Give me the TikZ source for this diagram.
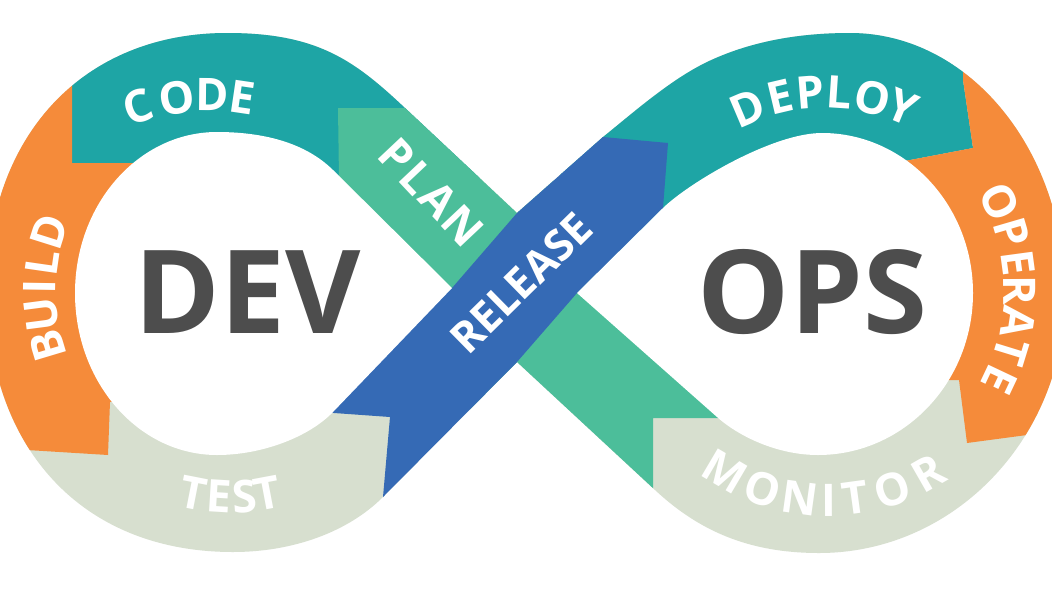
\documentclass[tikz,border=0pt]{standalone}
\usepackage{fontspec}
\setmainfont{Open Sans}
\definecolor{cteal}{RGB}{30,165,165}
\definecolor{corange}{RGB}{245,139,58}
\definecolor{cgreen}{RGB}{76,190,154}
\definecolor{cblue}{RGB}{53,106,181}
\definecolor{cgrey}{RGB}{215,223,207}
\definecolor{ctxt}{RGB}{77,77,77}
\begin{document}
\begin{tikzpicture}[x=1pt,y=-1pt,
  lbl/.style={text=white,font=\fontsize{45}{45}\selectfont\bfseries,inner sep=0pt,anchor=center},
  big/.style={text=ctxt,font=\fontsize{116}{116}\selectfont\bfseries,inner sep=0pt,anchor=center}]
\fill[white] (0,0) rectangle (1052,592);
\useasboundingbox (0,0) rectangle (1052,592);
\begin{scope}
\clip (517,213) -- (405,108) .. controls (354,60) and (317,33) .. (227,33)
  .. controls (83,33) and (-13,136) .. (-13,290)
  .. controls (-13,447) and (81,552) .. (233,552)
  .. controls (293,552) and (348,532) .. (383,497)
  -- (517,362) -- (655,490)
  .. controls (699,531) and (749,553) .. (819,553)
  .. controls (955,553) and (1065,437) .. (1065,295)
  .. controls (1065,150) and (969,33) .. (850,33)
  .. controls (800,33) and (750,41) .. (705,63)
  .. controls (669,81) and (634,112) .. (603,137)
  -- cycle;
% base (TEST / MONITOR)
\fill[cgrey] (-50,-50) rectangle (1110,650);
% CODE
\fill[cteal] (72,-20) -- (480,-20) -- (480,300) -- (200,300) -- (200,163) -- (72,163) -- cycle;
% BUILD
\fill[corange] (-50,-20) -- (72,-20) -- (72,163) -- (200,163) -- (200,400) -- (110,402) -- (108,455) -- (27,450) -- (-50,445) -- cycle;
% DEPLOY
\fill[cteal] (560,-20) -- (965,-20) -- (963,80) -- (973,148) -- (910,160) -- (880,165) -- (880,260) -- (560,260) -- cycle;
% OPERATE
\fill[corange] (963,-20) -- (1110,-20) -- (1110,424) -- (1027,435) -- (967,443) -- (959,380) -- (880,380) -- (880,165) -- (910,160) -- (973,148) -- (963,80) -- cycle;
% PLAN
\fill[cgreen] (338,108) -- (480,108) -- (760,380) -- (760,418) -- (653,418) -- (653,520) -- (560,520) -- (340,250) -- cycle;
% RELEASE
\fill[cblue] (452,288) -- (517,213) -- (603,137) -- (668,143) -- (663,208) -- (577,293) -- (517,362) -- (440,530) -- (383,530) -- (383,497) -- (390,417) -- (320,412) -- cycle;
% holes
\fill[white] (452,288) -- (333,170) .. controls (304.6,142) and (262,132) .. (217,132)
  .. controls (138.6,132) and (75,204) .. (75,293)
  .. controls (75,382.5) and (138.6,455) .. (217,455)
  .. controls (262,455) and (309,437) .. (333,412) -- cycle;
\fill[white] (577,293) -- (663,208) .. controls (688,183.5) and (772,133) .. (822,133)
  .. controls (905,133) and (973,204.6) .. (973,293)
  .. controls (973,382.5) and (903.6,455) .. (818,455)
  .. controls (778,455) and (739.5,437) .. (717,417) -- cycle;
\end{scope}
% centre words
\node[big] (dev) at (247.5,292) {DEV};
\node[big] (ops) at (812.5,292) {OPS};
% curved labels
\foreach \a/\l [count=\i] in {108.8/C,98.5/O,89.5/D,81.6/E}
  \path (210,318) ++(\a:223pt) node[lbl,rotate=\a-90] (code\i) {\l};
\foreach \a/\l [count=\i] in {196.7/B,187.4/U,179.1/I,171.8/L,162.5/D}
  \path (235,290) ++(\a:195pt) node[lbl,rotate=\a-90] (build\i) {\l};
\foreach \a/\l [count=\i] in {258.9/T,266.5/E,274.1/S,280.7/T}
  \path (231,300) ++(\a:197pt) node[lbl,rotate=\a+90] (test\i) {\l};
\foreach \a/\l [count=\i] in {113/D,103.3/E,94.6/P,86.2/L,76.5/O,67.5/Y}
  \path (826,292) ++(\a:200pt) node[lbl,rotate=\a-90] (deploy\i) {\l};
\foreach \a/\l [count=\i] in {25.3/O,16.3/P,7.7/E,0.3/R,-8.6/A,-17.1/T,-25.3/E}
  \path (812,291) ++(\a:208pt) node[lbl,rotate=\a-90] (operate\i) {\l};
\foreach \a/\l [count=\i] in {239.5/M,251.2/O,262.1/N,270.2/I,277.8/T,288.6/O,299.8/R}
  \path (828,297) ++(\a:203pt) node[lbl,rotate=\a+90] (monitor\i) {\l};
% straight labels
\foreach \p/\l [count=\i] in {{(397,156)}/P,{(417.4,177.7)}/L,{(438.4,199.9)}/A,{(463,226)}/N}
  \node[lbl,rotate=-46.7] (plan\i) at \p {\l};
\node[lbl,font=\fontsize{43}{43}\selectfont\bfseries,rotate=44.5] (release) at (521,283) {RELEASE};
\end{tikzpicture}
\end{document}
